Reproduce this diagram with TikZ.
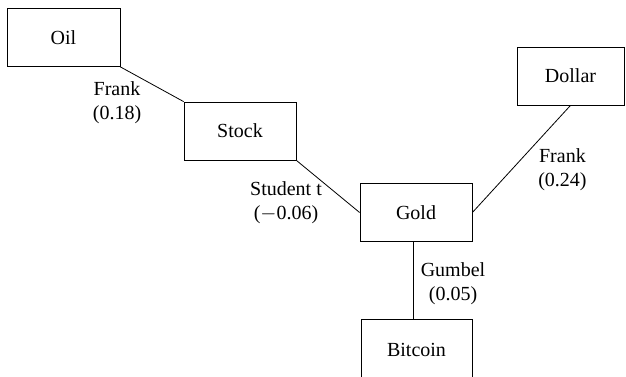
\documentclass[tikz,border=0pt]{standalone}
\usepackage{fontspec}
\setmainfont{Liberation Serif}
\usetikzlibrary{positioning}

\begin{document}
\begin{tikzpicture}[x=1pt, y=-1pt,
	asset/.style={draw, line width=0.8pt, inner sep=0pt, minimum height=58pt, font=\fontsize{20}{24}\selectfont},
	copula/.style={align=center, inner sep=0pt, font=\fontsize{20}{24}\selectfont}]
	\useasboundingbox (0,0) rectangle (626,377);
	\clip (0,0) rectangle (626,377);
	\node [asset, minimum width=113pt] (oil) at (63.5, 37.5) {Oil};
	\node [asset, minimum width=112pt] (stock) at (240, 131) {Stock};
	\node [asset, minimum width=107pt] (dollar) at (570.5, 76) {Dollar};
	\node [asset, minimum width=112pt] (gold) at (416, 212.5) {Gold};
	\node [asset, minimum width=111pt, minimum height=62pt] (bitcoin) at (416.5, 350) {Bitcoin};
	\draw [line width=0.8pt] (oil.south east) -- (stock.north west)
		node [copula, midway, shift={(-35, 18)}] (f1) {Frank\\(0.18)};
	\draw [line width=0.8pt] (stock.south east) -- (gold.west)
		node [copula, midway, shift={(-42, 16)}] (st) {Student t\\($-$0.06)};
	\draw [line width=0.8pt] (gold.east) -- (dollar.south)
		node [copula, midway, shift={(41, 11)}] (f2) {Frank\\(0.24)};
	\draw [line width=0.8pt] ([xshift=-3pt]gold.south) -- ([xshift=-3.5pt]bitcoin.north)
		node [copula, midway, shift={(40, 3)}] (gu) {Gumbel\\(0.05)};
\end{tikzpicture}
\end{document}
